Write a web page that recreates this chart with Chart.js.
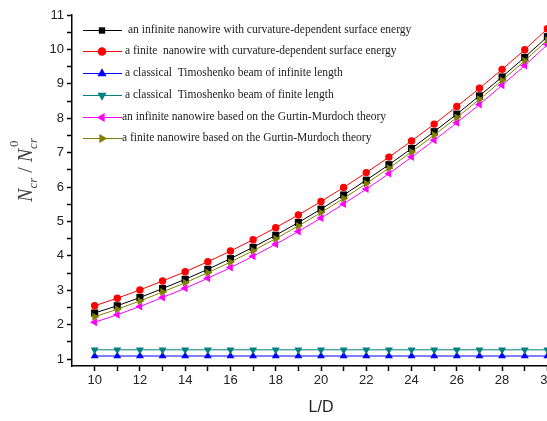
<!DOCTYPE html>
<html><head><meta charset="utf-8">
<script src="https://cdn.jsdelivr.net/npm/chart.js@4"></script>
<style>html,body{margin:0;padding:0;background:#fff;overflow:hidden}#wrap{width:580px;height:421px}</style>
</head><body>
<div id="wrap"><canvas id="c" width="580" height="421"></canvas></div>
<script>
const LD=[10,11,12,13,14,15,16,17,18,19,20,21,22,23,24,25,26,27,28,29,30];
const infCurv=[2.34,2.55,2.79,3.05,3.32,3.61,3.92,4.25,4.60,4.97,5.36,5.77,6.20,6.65,7.12,7.61,8.12,8.65,9.20,9.77,10.37];
const finCurv=[2.55,2.77,3.01,3.27,3.54,3.83,4.14,4.47,4.82,5.19,5.58,5.99,6.42,6.87,7.34,7.83,8.34,8.87,9.42,9.99,10.60];
const timoInf=[1.09,1.09,1.09,1.09,1.09,1.09,1.09,1.09,1.09,1.09,1.09,1.09,1.09,1.09,1.09,1.09,1.09,1.09,1.09,1.09,1.09];
const timoFin=[1.27,1.27,1.27,1.27,1.27,1.27,1.27,1.27,1.27,1.27,1.27,1.27,1.27,1.27,1.27,1.27,1.27,1.27,1.27,1.27,1.27];
const infGM=[2.07,2.29,2.53,2.79,3.06,3.35,3.66,3.99,4.34,4.71,5.10,5.51,5.94,6.39,6.87,7.36,7.87,8.40,8.96,9.53,10.14];
const finGM=[2.23,2.45,2.69,2.95,3.22,3.51,3.82,4.15,4.50,4.87,5.26,5.67,6.10,6.55,7.02,7.51,8.02,8.55,9.10,9.67,10.27];
const yTicks=[1,1.5,2,2.5,3,3.5,4,4.5,5,5.5,6,6.5,7,7.5,8,8.5,9,9.5,10,10.5,11];
const names=['an infinite nanowire with curvature-dependent surface energy','a finite  nanowire with curvature-dependent surface energy','a classical  Timoshenko beam of infinite length','a classical  Timoshenko beam of finite length','an infinite nanowire based on the Gurtin-Murdoch theory','a finite nanowire based on the Gurtin-Murdoch theory'];
const colors=['#000000','#ff0000','#0000ff','#008080','#ff00ff','#808000'];
const styles=['rect','circle','triangle','triangle','triangle','triangle'];
const rots=[0,0,0,180,-90,90];
const radii=[5,3.7,4.6,4.6,4.6,4.6];
const series=[infCurv,finCurv,timoInf,timoFin,infGM,finGM];

const datasets=series.map((s,i)=>({label:names[i],data:s.map((v,k)=>({x:LD[k],y:v})),borderColor:colors[i],backgroundColor:colors[i],borderWidth:1,pointStyle:styles[i],rotation:rots[i],pointRadius:radii[i],pointBorderWidth:0,order:6-i}));

const legendPlug={id:'lg',afterDraw(ch){
  const c=ch.ctx; c.save();
  const ys=[30,51,73,95,117,138], tx=[128,125,125,125,122,122];
  names.forEach((n,i)=>{
    c.strokeStyle=colors[i]; c.lineWidth=1.2; c.beginPath(); c.moveTo(83,ys[i]+.5); c.lineTo(122,ys[i]+.5); c.stroke();
    c.fillStyle=colors[i];
    Chart.helpers.drawPoint(c,{pointStyle:styles[i],rotation:rots[i],radius:i==0?4.5:radii[i]*1.15,borderWidth:0},102,ys[i]+.5);
    c.fillStyle='#222'; c.font='11.5px "Liberation Serif"'; c.textBaseline='middle'; c.fillText(n,tx[i],ys[i]);
  });
  // y title N_cr / N_cr^0
  c.translate(25,170); c.rotate(-Math.PI/2); c.fillStyle='#444'; c.textBaseline='alphabetic';
  const big='italic 20px "Liberation Serif"', sm='italic 13px "Liberation Serif"';
  const parts=[['N',big,0],['cr',sm,5],[' / ','20px "Liberation Serif"',0],['N',big,0],['cr',sm,5]];
  let w=0; parts.forEach(p=>{c.font=p[1]; w+=c.measureText(p[0]).width;});
  let x=-w/2;
  parts.forEach((p,j)=>{c.font=p[1]; c.fillText(p[0],x,7+p[2]);
    if(j==4){c.font='13px "Liberation Serif"'; c.fillText('0',x+2,-7);}
    c.font=p[1]; x+=c.measureText(p[0]).width;});
  c.restore();
}};

new Chart(document.getElementById('c'),{type:'line',data:{datasets},
 options:{responsive:false,animation:false,
  layout:{padding:{top:15,right:10,left:0,bottom:0}},
  plugins:{legend:{display:false},tooltip:{enabled:false}},
  scales:{
   x:{type:'linear',min:9,max:31,
      afterFit(s){s.height=55;},
      border:{color:'#000',width:1.5},
      grid:{drawOnChartArea:false,tickLength:5,color:'#000',tickWidth:1.5},
      ticks:{stepSize:1,autoSkip:false,maxRotation:0,color:'#222',font:{family:'Arial',size:13},padding:2,
        callback:v=>(v%2==0&&v>=10&&v<=30)?v:''},
      afterBuildTicks(s){s.ticks=LD.map(v=>({value:v}));},
      title:{display:true,text:'L/D',color:'#222',font:{family:'Arial',size:16},padding:{top:6}}},
   y:{type:'linear',min:0.8,max:11,
      afterFit(s){s.width=72;},
      border:{color:'#000',width:1.5},
      grid:{drawOnChartArea:false,tickLength:5,color:'#000',tickWidth:1.5},
      ticks:{autoSkip:false,color:'#222',font:{family:'Arial',size:13},padding:3,
        callback:v=>Number.isInteger(v)?v:''},
      afterBuildTicks(s){s.ticks=yTicks.map(v=>({value:v}));}}
  }},
 plugins:[legendPlug]});
</script>
</body></html>
